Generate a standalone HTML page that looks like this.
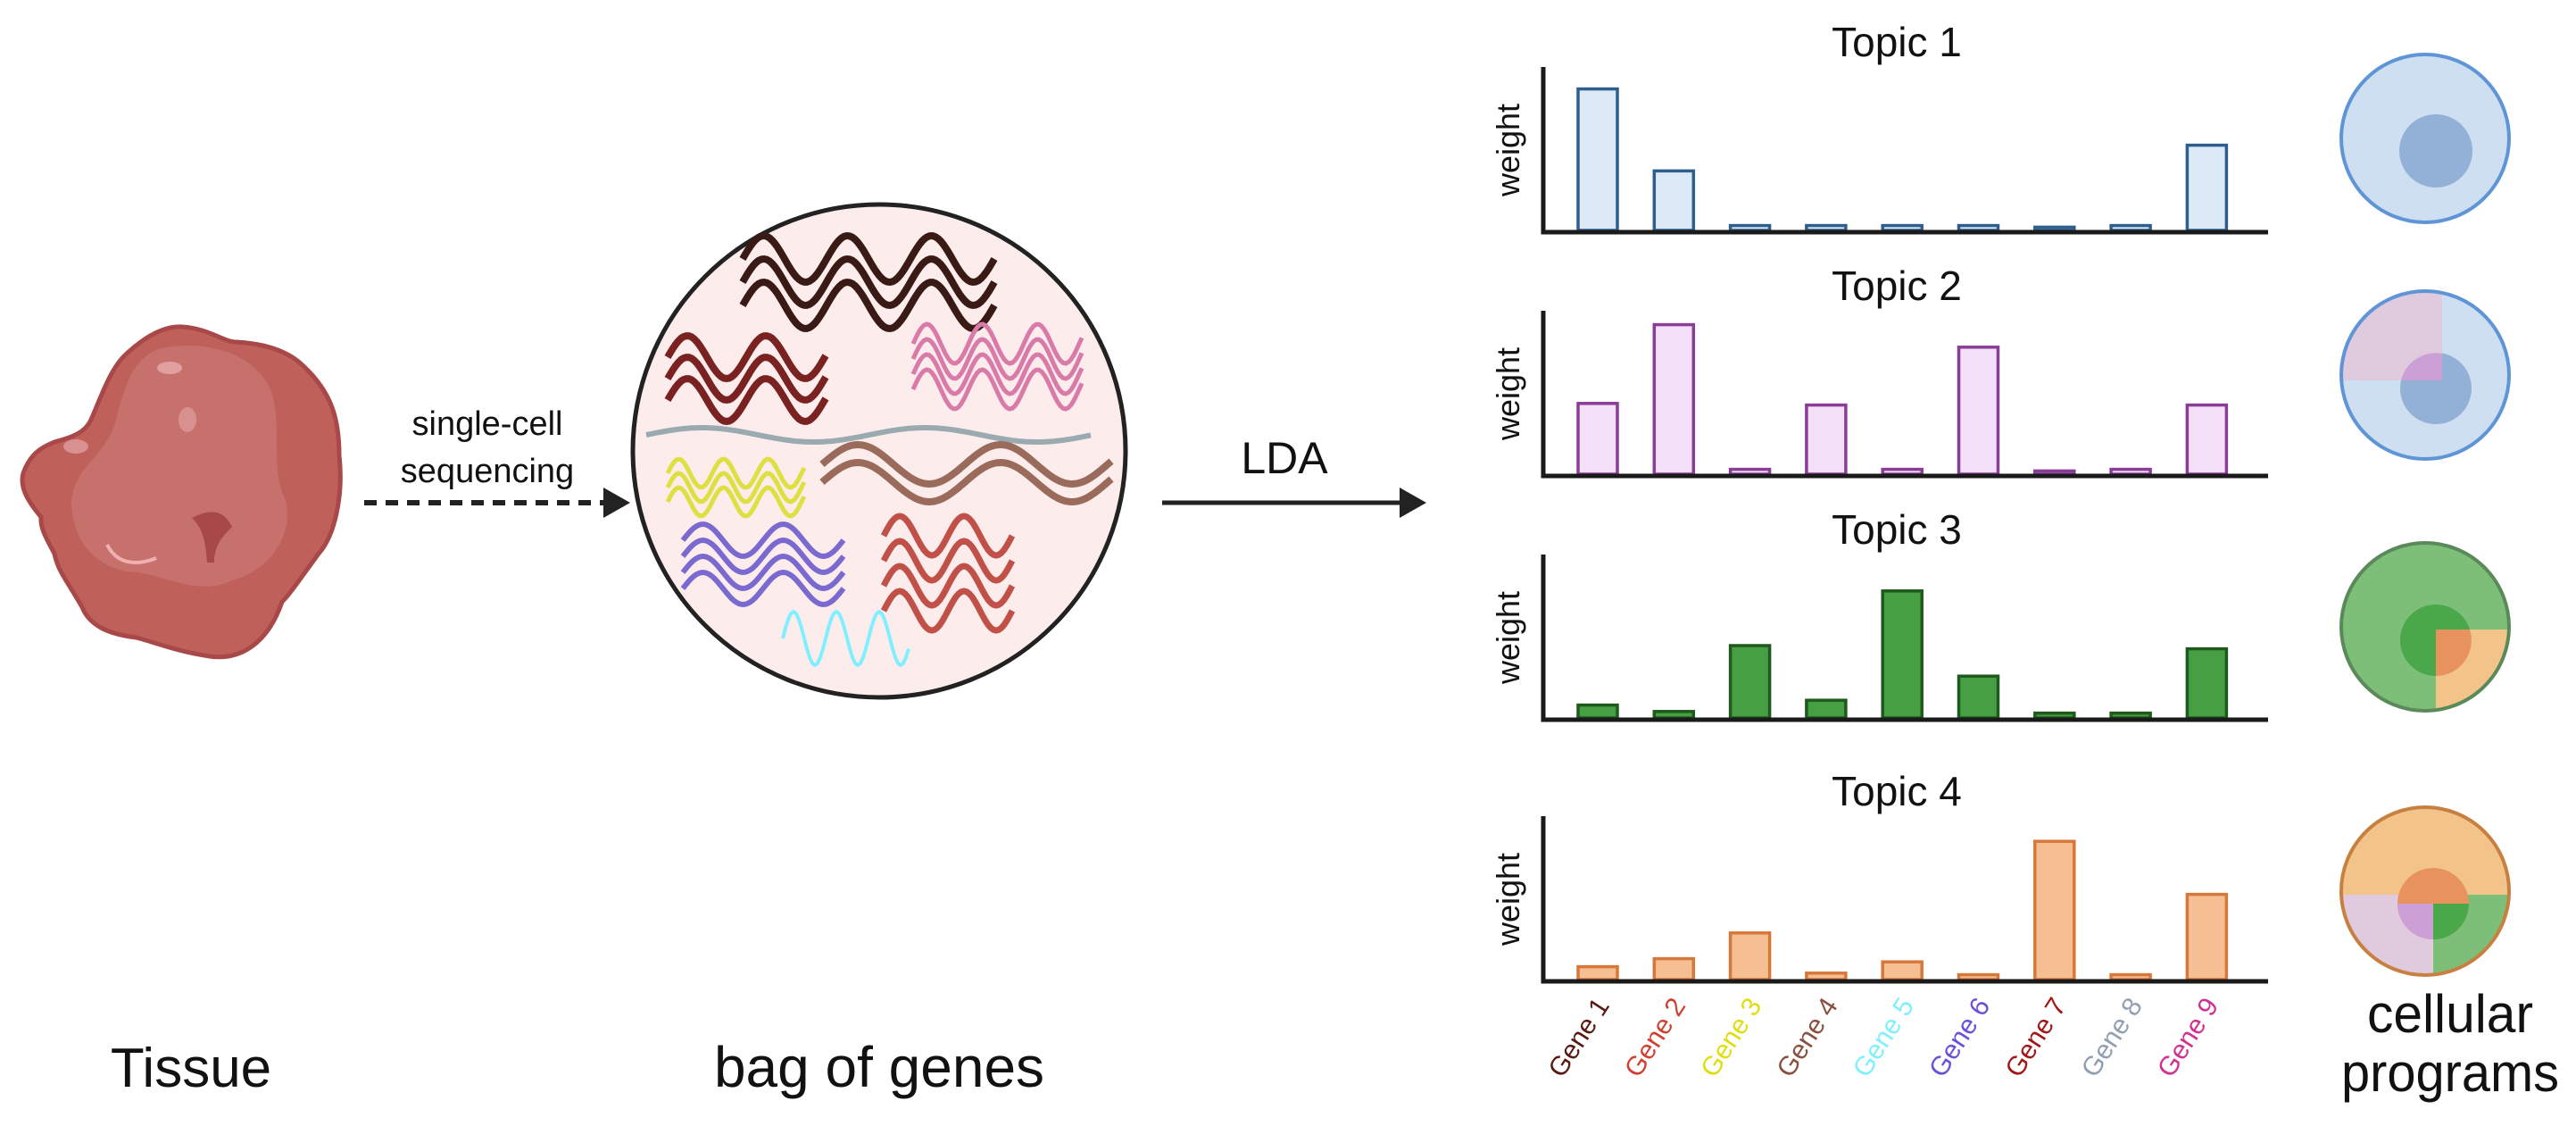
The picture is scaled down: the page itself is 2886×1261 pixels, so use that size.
<!DOCTYPE html>
<html><head><meta charset="utf-8"><style>
html,body{margin:0;padding:0;background:#fff;}
svg{display:block;font-family:"Liberation Sans",sans-serif;}
</style></head><body>
<svg id="fig" width="2886" height="1261" viewBox="0 0 2886 1261" xmlns="http://www.w3.org/2000/svg">
<defs>
<clipPath id="c2"><circle cx="2717" cy="420" r="94"/></clipPath>
<clipPath id="c3"><circle cx="2717" cy="702" r="94"/></clipPath>
<clipPath id="c4"><circle cx="2717" cy="998" r="94"/></clipPath>
</defs>
<g>
<path d="M204,366 C235,368 250,383 265,383 C300,385 325,395 340,410 C372,440 380,470 380,510 C385,555 375,600 357,620 C335,650 325,665 316,674 C300,720 270,740 235,735 C200,730 175,720 153,714 C120,710 100,700 92,680 C75,650 65,640 61,620 C50,600 45,590 46,579 C30,560 22,545 26,530 C35,505 50,500 61,495 C80,490 95,485 102,470 C115,440 125,410 143,395 C165,375 185,365 204,366 Z" fill="#c0605a" stroke="#a84848" stroke-width="5"/>
<path d="M180,390 C230,380 280,395 300,430 C320,470 300,520 320,560 C330,600 300,640 260,650 C220,670 180,640 140,640 C100,630 80,600 80,560 C85,520 120,510 130,470 C140,430 150,400 180,390 Z" fill="#c87570" opacity="0.8"/>
<ellipse cx="190" cy="412" rx="14" ry="7" fill="#e0a0a0"/>
<ellipse cx="210" cy="470" rx="10" ry="14" fill="#d89090"/>
<ellipse cx="85" cy="500" rx="14" ry="8" fill="#d89090"/>
<path d="M215,580 C235,570 250,570 260,590 C250,600 240,610 240,630 L232,630 C230,600 225,590 215,580Z" fill="#a84848"/>
<path d="M120,610 C130,630 150,635 175,625" stroke="#f0b0b0" stroke-width="4" fill="none"/>
</g>
<text x="214" y="1217" font-size="62" text-anchor="middle" fill="#111">Tissue</text>
<g>
<line x1="408" y1="563" x2="678" y2="563" stroke="#222" stroke-width="6" stroke-dasharray="14,10"/>
<polygon points="676,546 706,563 676,580" fill="#222"/>
</g>
<text x="546" y="487" font-size="38" text-anchor="middle" fill="#111">single-cell</text>
<text x="546" y="540" font-size="38" text-anchor="middle" fill="#111">sequencing</text>
<circle cx="985" cy="505" r="276" fill="#fcecec" stroke="#222" stroke-width="5"/>
<g id="waves"></g>
<text x="985" y="1217" font-size="64" text-anchor="middle" fill="#111">bag of genes</text>
<g>
<line x1="1302" y1="563" x2="1570" y2="563" stroke="#222" stroke-width="5"/>
<polygon points="1568,546 1598,563 1568,580" fill="#222"/>
</g>
<text x="1439" y="530" font-size="50" text-anchor="middle" fill="#111">LDA</text>
<g id="charts"></g>
<g>
<circle cx="2717" cy="155" r="94" fill="#cddff0" stroke="#5f95d6" stroke-width="4"/>
<circle cx="2729" cy="169" r="41" fill="#93b1d6"/>
</g>
<g>
<circle cx="2717" cy="420" r="94" fill="#cddff0"/>
<circle cx="2729" cy="435" r="40" fill="#93b1d6"/>
<g clip-path="url(#c2)"><rect x="2600" y="300" width="136" height="126" fill="#e0cade"/></g>
<path d="M2736,426 L2736,396 A40,40 0 0 0 2690,426 Z" fill="#cc9fd6"/>
<circle cx="2717" cy="420" r="94" fill="none" stroke="#5f95d6" stroke-width="4"/>
</g>
<g>
<circle cx="2717" cy="702" r="94" fill="#7dbf78"/>
<circle cx="2729" cy="717" r="40" fill="#4aa84a"/>
<g clip-path="url(#c3)"><rect x="2729" y="705" width="100" height="120" fill="#f3c48a"/></g>
<path d="M2729,705 L2767,705 A40,40 0 0 1 2729,757 Z" fill="#e8935e"/>
<circle cx="2717" cy="702" r="94" fill="none" stroke="#5a8a5a" stroke-width="4"/>
</g>
<g>
<circle cx="2717" cy="998" r="94" fill="#f3c48a"/>
<g clip-path="url(#c4)"><rect x="2600" y="1002" width="126" height="120" fill="#e0cade"/><rect x="2726" y="1002" width="120" height="120" fill="#7dbf78"/></g>
<circle cx="2726" cy="1012" r="40" fill="#e8935e"/>
<path d="M2686,1012 L2726,1012 L2726,1052 A40,40 0 0 1 2686,1012Z" fill="#cc9fd6"/>
<path d="M2726,1012 L2766,1012 A40,40 0 0 1 2726,1052Z" fill="#4aa84a"/>
<circle cx="2717" cy="998" r="94" fill="none" stroke="#c88040" stroke-width="4"/>
</g>
<text x="2745" y="1156" font-size="60" text-anchor="middle" textLength="186" lengthAdjust="spacingAndGlyphs" fill="#111">cellular</text>
<text x="2745" y="1222" font-size="60" text-anchor="middle" textLength="244" lengthAdjust="spacingAndGlyphs" fill="#111">programs</text>
</svg>
<script>
const NS="http://www.w3.org/2000/svg";
const genes=["Gene 1","Gene 2","Gene 3","Gene 4","Gene 5","Gene 6","Gene 7","Gene 8","Gene 9"];
const geneColors=["#5a1a10","#d04030","#dede10","#8a5040","#80f0ff","#6a50d8","#a01818","#90a0b0","#d03090"];
const topicNames=["Topic 1","Topic 2","Topic 3","Topic 4"];
const topic1=[0.88,0.37,0.03,0.03,0.03,0.03,0.02,0.03,0.53];
const topic2=[0.44,0.93,0.03,0.43,0.03,0.79,0.02,0.03,0.43];
const topic3=[0.08,0.04,0.45,0.11,0.79,0.26,0.03,0.03,0.43];
const topic4=[0.08,0.13,0.29,0.04,0.11,0.03,0.86,0.03,0.53];
const topics=[topic1,topic2,topic3,topic4];
const fills=["#dceaf7","#f3dff7","#46a043","#f5bf93"];
const strokes=["#2e5e8e","#8a3d96","#1f5a1c","#d8773a"];
const baselines=[258,531,804,1097];
const axisLeft=1729, axisRight=2541, axisH=180;
function xScale(i){return 1790+i*85.3;}
function yScale(v,t){return baselines[t]-v*axisH;}
const charts=document.getElementById('charts');
function mk(tag,attrs,parent){const e=document.createElementNS(NS,tag);for(const k in attrs)e.setAttribute(k,attrs[k]);parent.appendChild(e);return e;}
topics.forEach((vals,t)=>{
  const g=mk('g',{},charts);
  
  
  const b=baselines[t];
  const title=mk('text',{x:2125,y:b-195,'font-size':46,'text-anchor':'middle',fill:'#111'},g);
  title.textContent=topicNames[t];
  
  
  const yl=mk('text',{x:0,y:0,'font-size':36,'text-anchor':'middle',fill:'#111',transform:'translate(1702,'+(b-axisH/2)+') rotate(-90)'},g);
  yl.textContent='weight';
  
  
  vals.forEach((v,i)=>{
    const y=yScale(v,t);
    const r=mk('rect',{x:xScale(i)-22,y:y,width:44,height:b-y,fill:fills[t],stroke:strokes[t],'stroke-width':3.5},g);
    
    
  });
  const ax=mk('path',{d:'M'+axisLeft+','+(b-axisH-3)+' L'+axisLeft+','+(b+2)+' L'+axisRight+','+(b+2),fill:'none',stroke:'#1a1a1a','stroke-width':5},g);
  
  
});
genes.forEach((n,i)=>{
  const tx=mk('text',{x:0,y:0,'font-size':30,'text-anchor':'end',fill:geneColors[i],transform:'translate('+(xScale(i)+14)+',1126) rotate(-57)'},charts);
  tx.textContent=n;
  
  
});
const W=document.getElementById('waves');
function wave(x0,x1,y,amp,period,color,sw,n,gap){
  for(let k=0;k<n;k++){
    let d='';
    for(let x=x0;x<=x1;x+=3){const yy=y+k*gap-amp*Math.sin((x-x0)/period*2*Math.PI);d+=(d?'L':'M')+x+','+yy.toFixed(1);}
    mk('path',{d:d,fill:'none',stroke:color,'stroke-width':sw},W);
  }
}
wave(832,1115,290,26,94,"#3a1a14",8,3,26);
wave(748,925,400,24,88,"#7a2222",8,3,24);
wave(1023,1214,385,22,62,"#d97aa8",5,4,17);
wave(724,1224,487,8,250,"#9aaab0",6,1,0);
wave(748,901,530,16,50,"#dde040",5,3,16);
wave(921,1247,520,22,160,"#9a6a5a",8,2,20);
wave(765,946,605,18,90,"#7a6ad0",6,4,18);
wave(990,1134,600,22,72,"#c05048",7,4,28);
wave(877,1020,715,30,48,"#80f0ff",4,1,0);
</script>
</body></html>
